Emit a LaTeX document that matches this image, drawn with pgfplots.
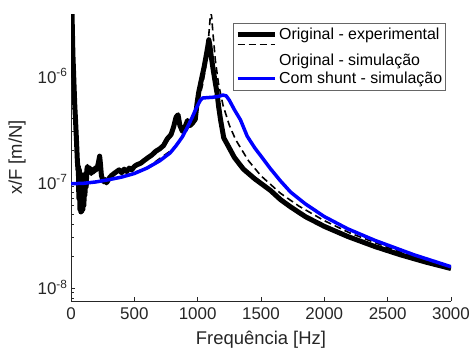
\documentclass[border=0pt]{standalone}
\usepackage{fontspec}
\setmainfont{Liberation Sans}
\usepackage{pgfplots}
\pgfplotsset{compat=1.18}
\definecolor{axgray}{RGB}{38,38,38}
\pgfplotsset{
 legsolid/.style={legend image code/.code={\draw[##1] (0bp,0bp) -- (37bp,0bp);}},
 legdash/.style={legend image code/.code={\draw[##1] (0bp,16bp) -- (37bp,16bp);}},
 legblue/.style={legend image code/.code={\draw[##1, line width=3bp] (0bp,0bp) -- (37bp,0bp);}},
}
\begin{document}
\begin{tikzpicture}
\begin{semilogyaxis}[
 name=ax, scale only axis, width=380bp, height=287bp,
 xmin=0, xmax=3000, ymin=7.5e-9, ymax=3.85e-6,
 axis x line*=bottom, axis y line*=left,
 axis line style={axgray, line width=0.6bp, -},
 tick align=inside,
 major tick length=4bp, minor tick length=2.5bp,
 tick style={axgray, line width=0.5bp},
 xtick={0,500,1000,1500,2000,2500,3000},
 xticklabels={0,500,1000,1500,2000,2500,3000},
 ytick={1e-8,1e-7,1e-6},
 yticklabels={10\textsuperscript{-8},10\textsuperscript{-7},10\textsuperscript{-6}},
 minor ytick={8e-9,9e-9,2e-8,3e-8,4e-8,5e-8,6e-8,7e-8,8e-8,9e-8,2e-7,3e-7,4e-7,5e-7,6e-7,7e-7,8e-7,9e-7,2e-6,3e-6},
 ticklabel style={font=\fontsize{17}{20}\selectfont, text=axgray},
 xticklabel style={yshift=-3bp},
 xlabel={Frequência [Hz]}, ylabel={x/F [m/N]},
 label style={font=\fontsize{18.5}{22}\selectfont, text=axgray},
 xlabel style={at={(ticklabel cs:0.5,5bp)}},
 ylabel style={at={(ticklabel cs:0.5,5bp)}},
 legend style={at={(0.426,0.969)}, anchor=north west, draw=black!60, line width=0.6bp,
   fill=white, font=\fontsize{16}{18}\selectfont, inner xsep=2bp, inner ysep=2.2bp,
   row sep=0bp, nodes={inner xsep=1bp, inner ysep=2.6bp},
   /tikz/every odd column/.append style={column sep=1bp}},
 legend cell align=left,
]
\addplot[black, line width=5bp, line join=round, legsolid] coordinates {
(1,2e-5) (5,8e-6) (10,3e-6) (15,1.6e-6) (20,1.1e-6) (25,7.5e-7) (30,5.2e-7) (35,4e-7) (40,3e-7) (45,2.2e-7) (50,1.6e-7) (55,1.3e-7)
(58,1.4e-7) (62,7e-8) (66,1.3e-7) (70,5.5e-8) (74,1.2e-7) (78,5.2e-8) (82,1.1e-7) (86,5.3e-8) (90,1.15e-7) (94,5.5e-8) (98,1.0e-7) (102,6e-8) (106,1.1e-7) (110,7.5e-8) (115,1.2e-7) (120,9e-8) (125,1.3e-7)
(130,1.4e-7) (140,1.25e-7) (150,1.35e-7) (160,1.2e-7) (170,1.3e-7) (180,1.25e-7) (190,1.35e-7) (200,1.3e-7) (210,1.4e-7) (220,1.6e-7) (226,1.75e-7) (232,1.5e-7) (240,1.15e-7) (250,1.05e-7) (260,1.0e-7) (270,1.05e-7) (280,9.8e-8) (290,1.02e-7) (300,1.08e-7)
(320,1.15e-7) (340,1.2e-7) (360,1.25e-7) (380,1.3e-7) (400,1.22e-7) (420,1.32e-7) (440,1.25e-7) (460,1.35e-7) (480,1.3e-7) (500,1.4e-7) (520,1.45e-7) (550,1.5e-7) (580,1.6e-7) (610,1.7e-7) (640,1.8e-7) (670,1.95e-7) (700,2.05e-7) (730,2.2e-7) (760,2.55e-7) (790,2.8e-7) (810,3.3e-7)
(830,4.1e-7) (845,4.3e-7) (860,3.4e-7) (880,3.0e-7) (900,3.3e-7) (920,3.8e-7) (940,3.4e-7) (960,3.6e-7) (981,3.9e-7) (995,5.5e-7) (1008,7e-7) (1034,9.8e-7) (1050,1.2e-6) (1065,1.5e-6) (1080,1.9e-6) (1088,2.2e-6) (1095,2.0e-6) (1105,1.6e-6) (1120,1.2e-6) (1140,8.5e-7) (1153,6.9e-7) (1165,5.2e-7) (1180,3.9e-7) (1206,2.6e-7) (1235,2.25e-7) (1290,1.7e-7) (1361,1.32e-7) (1450,1.07e-7) (1575,8.3e-8) (1654,6.8e-8) (1734,5.8e-8) (1850,4.7e-8) (2000,3.8e-8) (2185,3.05e-8) (2400,2.45e-8) (2600,2.05e-8) (2800,1.75e-8) (3000,1.52e-8)
};
\addlegendentry{Original - experimental}
\addplot[black, line width=1.6bp, dash pattern=on 7bp off 4bp, legdash] coordinates {
(0,9.6e-8) (200,9.93e-8) (400,1.105e-7) (600,1.362e-7) (800,2.02e-7) (900,2.85e-7) (950,3.68e-7) (1000,5.3e-7) (1040,8.4e-7) (1060,1.15e-6) (1080,1.89e-6) (1090,2.64e-6) (1100,3.68e-6) (1105,3.9e-6) (1110,3.68e-6) (1120,2.6e-6) (1140,1.39e-6) (1165,8.4e-7) (1200,5.3e-7) (1250,3.43e-7) (1300,2.5e-7) (1400,1.59e-7) (1500,1.14e-7) (1654,7.8e-8) (1800,5.9e-8) (2000,4.3e-8) (2200,3.3e-8) (2500,2.4e-8) (2800,1.8e-8) (3000,1.55e-8)
};
\addlegendentry{Original - simulação}
\addplot[blue, line width=3.5bp, line join=round, legblue] coordinates {
(0,9.6e-8) (100,9.7e-8) (200,1.0e-7) (300,1.05e-7) (400,1.11e-7) (500,1.2e-7) (600,1.35e-7) (700,1.58e-7) (783,1.88e-7) (830,2.2e-7) (879,2.66e-7) (920,3.3e-7) (958,4.1e-7) (990,5.0e-7) (1021,5.9e-7) (1040,6.2e-7) (1080,6.25e-7) (1120,6.3e-7) (1160,6.4e-7) (1200,6.6e-7) (1225,6.5e-7) (1250,5.9e-7) (1290,4.8e-7) (1338,3.85e-7) (1391,2.7e-7) (1450,2.1e-7) (1500,1.75e-7) (1575,1.33e-7) (1654,1.02e-7) (1734,8.0e-8) (1850,6.2e-8) (2000,4.7e-8) (2185,3.6e-8) (2400,2.8e-8) (2707,2.05e-8) (3000,1.58e-8)
};
\addlegendentry{Com shunt - simulação}
\end{semilogyaxis}
\pgfresetboundingbox
\path[use as bounding box] ([xshift=-71bp,yshift=-49bp]ax.south west) rectangle ([xshift=20bp,yshift=14bp]ax.north east);
\end{tikzpicture}
\end{document}
